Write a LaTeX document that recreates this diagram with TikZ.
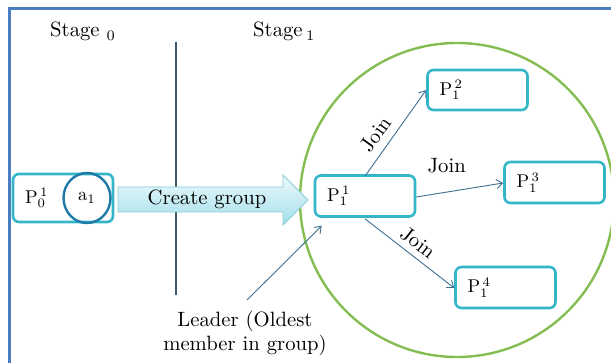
\documentclass[tikz,border=0pt]{standalone}
\usetikzlibrary{arrows.meta,shapes.geometric,calc}

\definecolor{framecol}{HTML}{4A7EC0}
\definecolor{boxcol}{HTML}{34B6C8}
\definecolor{ovalcol}{HTML}{1E7AA6}
\definecolor{groupcol}{HTML}{84BE52}
\definecolor{linkcol}{HTML}{3C6E90}
\definecolor{dividercol}{HTML}{3A5A6A}
\definecolor{arrowtop}{HTML}{EEFAFD}
\definecolor{arrowbot}{HTML}{A2DEEA}
\definecolor{arrowedge}{HTML}{86CCD6}

% 10pt design size, enlarged: keeps the strokes as heavy as body text
\newcommand{\bigtxt}[1]{\scalebox{2.07}{#1}}
\newcommand{\ptxt}[1]{\scalebox{1.85}{#1}}

\tikzset{
  pbox/.style={draw=boxcol, line width=2.6pt, rounded corners=6pt, fill=white,
    minimum height=41pt, text width=76pt, inner xsep=12pt, inner ysep=0pt,
    align=left},
  link/.style={draw=linkcol, line width=0.9pt,
    -{Straight Barb[length=6pt,width=9pt,line width=0.9pt]}},
  lab/.style={inner sep=0pt},
}

\begin{document}
\begin{tikzpicture}[x=1pt, y=-1pt]
\useasboundingbox (0,0) rectangle (611,363);

% outer frame (open to the right and bottom)
\draw[framecol, line width=3pt] (9,363) -- (9,9) -- (611,9);

% stage headings and divider
\node[lab, anchor=base west] (st0) at (50,37) {\bigtxt{Stage\,\,$_{0}$}};
\node[lab, anchor=base west] (st1) at (253,37) {\bigtxt{Stage\,$_{1}$}};
\draw[dividercol, line width=1.2pt] (176,42) -- (176,295);

% the group
\draw[groupcol, line width=2.4pt] (457,200) circle (157);

% stage 0 process with its attribute
\node[pbox, minimum height=48pt] (p0) at (63,198) {\ptxt{$\mathrm{P}_{0}^{\,1}$}};
\node[draw=ovalcol, line width=2.4pt, ellipse, minimum width=47pt,
      minimum height=50pt, inner sep=0pt] (a1) at (87,198) {\ptxt{a$_{1}$}};

% create-group block arrow
\shade[top color=arrowtop, bottom color=arrowbot, draw=arrowedge, line width=0.8pt]
  (118,187) -- (283,187) -- (283,175) -- (308,200) -- (283,225)
  -- (283,212) -- (118,212) -- cycle;
\node[lab] (cg) at (207,199) {\bigtxt{Create group}};

% stage 1 processes
\node[pbox] (p11) at (365,196) {\ptxt{$\mathrm{P}_{1}^{\,1}$}};
\node[pbox, minimum height=40pt] (p12) at (477.5,90) {\ptxt{$\mathrm{P}_{1}^{\,2}$}};
\node[pbox] (p13) at (554.5,182.5) {\ptxt{$\mathrm{P}_{1}^{\,3}$}};
\node[pbox] (p14) at (505.5,287.5) {\ptxt{$\mathrm{P}_{1}^{\,4}$}};

% join links
\draw[link] ($(p11.north)+(0,2)$) -- (p12.west)
  node[lab, pos=0.38, sloped, above=8pt] {\bigtxt{Join}};
\draw[link] ($(p11.east)+(0,1)$) -- ($(p13.west)+(0,0.5)$)
  node[lab, pos=0.35, yshift=26pt] {\bigtxt{Join}};
\draw[link] ($(p11.south)+(0,1)$) -- ($(p14.west)+(0,0.5)$)
  node[lab, pos=0.5, sloped, above=6pt] {\bigtxt{Join}};

% leader annotation
\node[lab, align=center, anchor=north, font=\fontsize{10}{11.6}\selectfont,
      scale=2.07, transform shape] (leader) at (245,311)
  {Leader (Oldest\\member in group)};
\draw[link] (247,300) -- ($(p11.south west)+(8,8)$);
\end{tikzpicture}
\end{document}
